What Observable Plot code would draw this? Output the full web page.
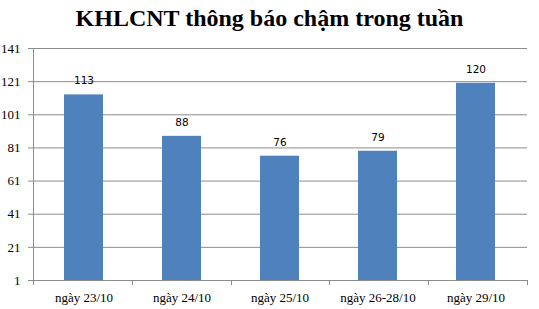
<!DOCTYPE html>
<html><head><meta charset="utf-8">
<script src="https://cdn.jsdelivr.net/npm/d3@7"></script>
<script src="https://cdn.jsdelivr.net/npm/@observablehq/plot@0.6"></script>
<style>
body{margin:0;background:#fff;width:539px;height:309px;overflow:hidden}
#title{height:40px;line-height:36px;text-align:center;font-family:"Liberation Serif","Times New Roman",serif;font-weight:bold;font-size:24px;color:#000}
svg{display:block}
</style></head>
<body>
<div id="title">KHLCNT thông báo chậm trong tuần</div>
<div id="chart"></div>
<script>
const categories = ["ngày 23/10","ngày 24/10","ngày 25/10","ngày 26-28/10","ngày 29/10"];
const values = [113, 88, 76, 79, 120];
const yTicks = [1, 21, 41, 61, 81, 101, 121, 141];

const data = categories.map((c, i) => ({cat: c, v: values[i]}));
const serif = "'Liberation Serif','Times New Roman',serif";

const chart = Plot.plot({
  width: 539,
  height: 269,
  marginTop: 8,
  marginBottom: 29,
  marginLeft: 33,
  marginRight: 12,
  style: {fontFamily: serif, fontSize: "13px", color: "#000", background: "#fff"},
  x: {domain: categories, padding: 0.6, paddingOuter: 0.3, label: null, axis: null},
  y: {domain: [1, 141], ticks: yTicks, label: null, axis: null},
  marks: [
    Plot.ruleY(yTicks.filter(d => d > 1), {stroke: "#8c8c8c", strokeWidth: 1}),
    Plot.barY(data, {x: "cat", y1: 1, y2: "v", fill: "#4f81bd"}),
    Plot.text(data, {x: "cat", y: "v", text: d => String(d.v), dy: -14, fontFamily: "'DejaVu Sans',Verdana,sans-serif", fontSize: 10.5, fill: "#000"}),
    Plot.axisY({ticks: yTicks, tickSize: 5, tickPadding: 8, stroke: "#8c8c8c", fontFamily: serif, fontSize: 13, fill: "#000"}),
    Plot.axisX({tickSize: 0, tickPadding: 12, fontFamily: serif, fontSize: 13, fill: "#000"})
  ]
});
document.getElementById("chart").appendChild(chart);

// Axis lines and category boundary ticks via the scales
const svg = d3.select(chart);
const xs = chart.scale("x"), ys = chart.scale("y");
const left = xs.range[0], right = xs.range[1];
const y0 = ys.apply(1), yTop = ys.apply(141);
const g = svg.append("g").attr("stroke", "#8c8c8c").attr("stroke-width", 1);
g.append("line").attr("x1", left + 0.5).attr("x2", left + 0.5).attr("y1", yTop).attr("y2", y0);
g.append("line").attr("x1", left).attr("x2", right).attr("y1", y0 + 0.5).attr("y2", y0 + 0.5);
for (let i = 0; i <= categories.length; i++) {
  const x = Math.round(left + (right - left) * i / categories.length) + 0.5;
  g.append("line").attr("x1", x).attr("x2", x).attr("y1", y0).attr("y2", y0 + 5);
}
</script>
</body></html>
